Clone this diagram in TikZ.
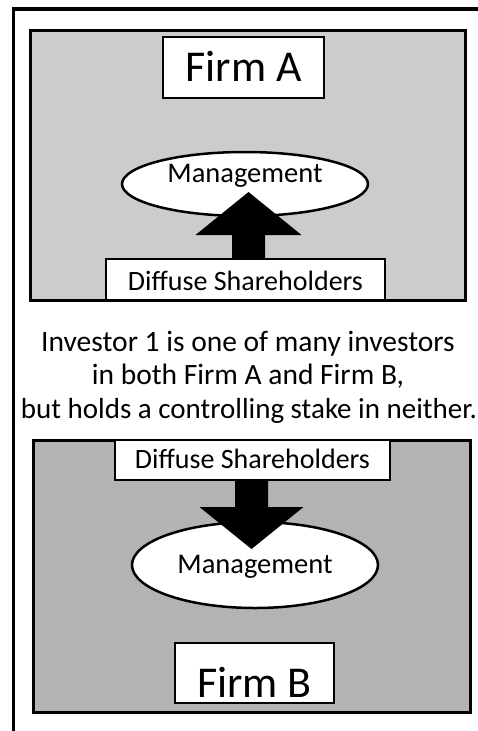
\documentclass[tikz,border=0pt]{standalone}
\usepackage{fontspec}
\setmainfont{Carlito}
\usetikzlibrary{shapes.geometric,calc}
\definecolor{panelA}{RGB}{204,204,204}
\definecolor{panelB}{RGB}{179,179,179}
\begin{document}
\begin{tikzpicture}[x=1pt,y=-1pt,
  panel/.style={draw=black,line width=3pt,inner sep=0pt,outer sep=0pt,anchor=north west},
  firmbox/.style={draw=black,fill=white,line width=2.5pt,inner sep=0pt,outer sep=0pt,
    font=\fontsize{44}{50}\selectfont,text depth=0pt},
  shbox/.style={draw=black,fill=white,line width=2.5pt,inner sep=0pt,outer sep=0pt,
    font=\fontsize{28}{32}\selectfont,text depth=0pt},
  mgmt/.style={ellipse,draw=black,fill=white,line width=2.5pt,inner sep=0pt,outer sep=0pt,
    minimum width=246pt,font=\fontsize{28.5}{32}\selectfont},
  caption/.style={anchor=base,inner sep=0pt,font=\fontsize{29.5}{34}\selectfont},
  bigarrow/.style={fill=black}]
\useasboundingbox (0,0) rectangle (478,731);
% outer frame
\draw[line width=3.5pt] (13.5,731) -- (13.5,9) -- (478,9);
% panels
\node[panel,fill=panelA,minimum width=435pt,minimum height=270pt] (pA) at (30,30) {};
\node[panel,fill=panelB,minimum width=437pt,minimum height=272pt] (pB) at (33,440) {};
% Firm A
\node[firmbox,minimum width=161pt,minimum height=61pt,text height=28pt] (fA) at (243.5,67.5) {Firm A};
\node[mgmt,minimum height=64pt,text height=17pt,text depth=21pt] (mA) at (245,184) {Management};
\node[shbox,minimum width=279pt,minimum height=41pt,text height=22.7pt] (dA) at (245.5,279.5) {Diffuse Shareholders};
\coordinate (tA) at (248.5,192);
\fill[bigarrow] (tA) -- ++(53,43) -- ++(-36.5,0) -- ($(dA.north -| tA)+(16.5,0)$) -- ++(-33,0)
  -- ($(tA)+(-16.5,43)$) -- ++(-36.5,0) -- cycle;
% caption
\node[caption] (c1) at (248,351) {Investor 1 is one of many investors};
\node[caption] (c2) at (248,384.5) {in both Firm A and Firm B,};
\node[caption,font=\fontsize{29}{34}\selectfont] (c3) at (249,418) {but holds a controlling stake in neither.};
% Firm B
\node[mgmt,minimum height=86pt,text height=17pt,text depth=0pt] (mB) at (255,565) {Management};
\node[shbox,minimum width=275pt,minimum height=40pt,text height=17.7pt] (dB) at (252.5,460) {Diffuse Shareholders};
\coordinate (tB) at (251.5,549);
\fill[bigarrow] (tB) -- ++(52,-42) -- ++(-35.5,0) -- ($(dB.south -| tB)+(16.5,0)$) -- ++(-33,0)
  -- ($(tB)+(-16.5,-42)$) -- ++(-35.5,0) -- cycle;
\node[firmbox,minimum width=159pt,minimum height=60pt,text height=48pt] (fB) at (254.5,673) {Firm B};
\end{tikzpicture}
\end{document}
